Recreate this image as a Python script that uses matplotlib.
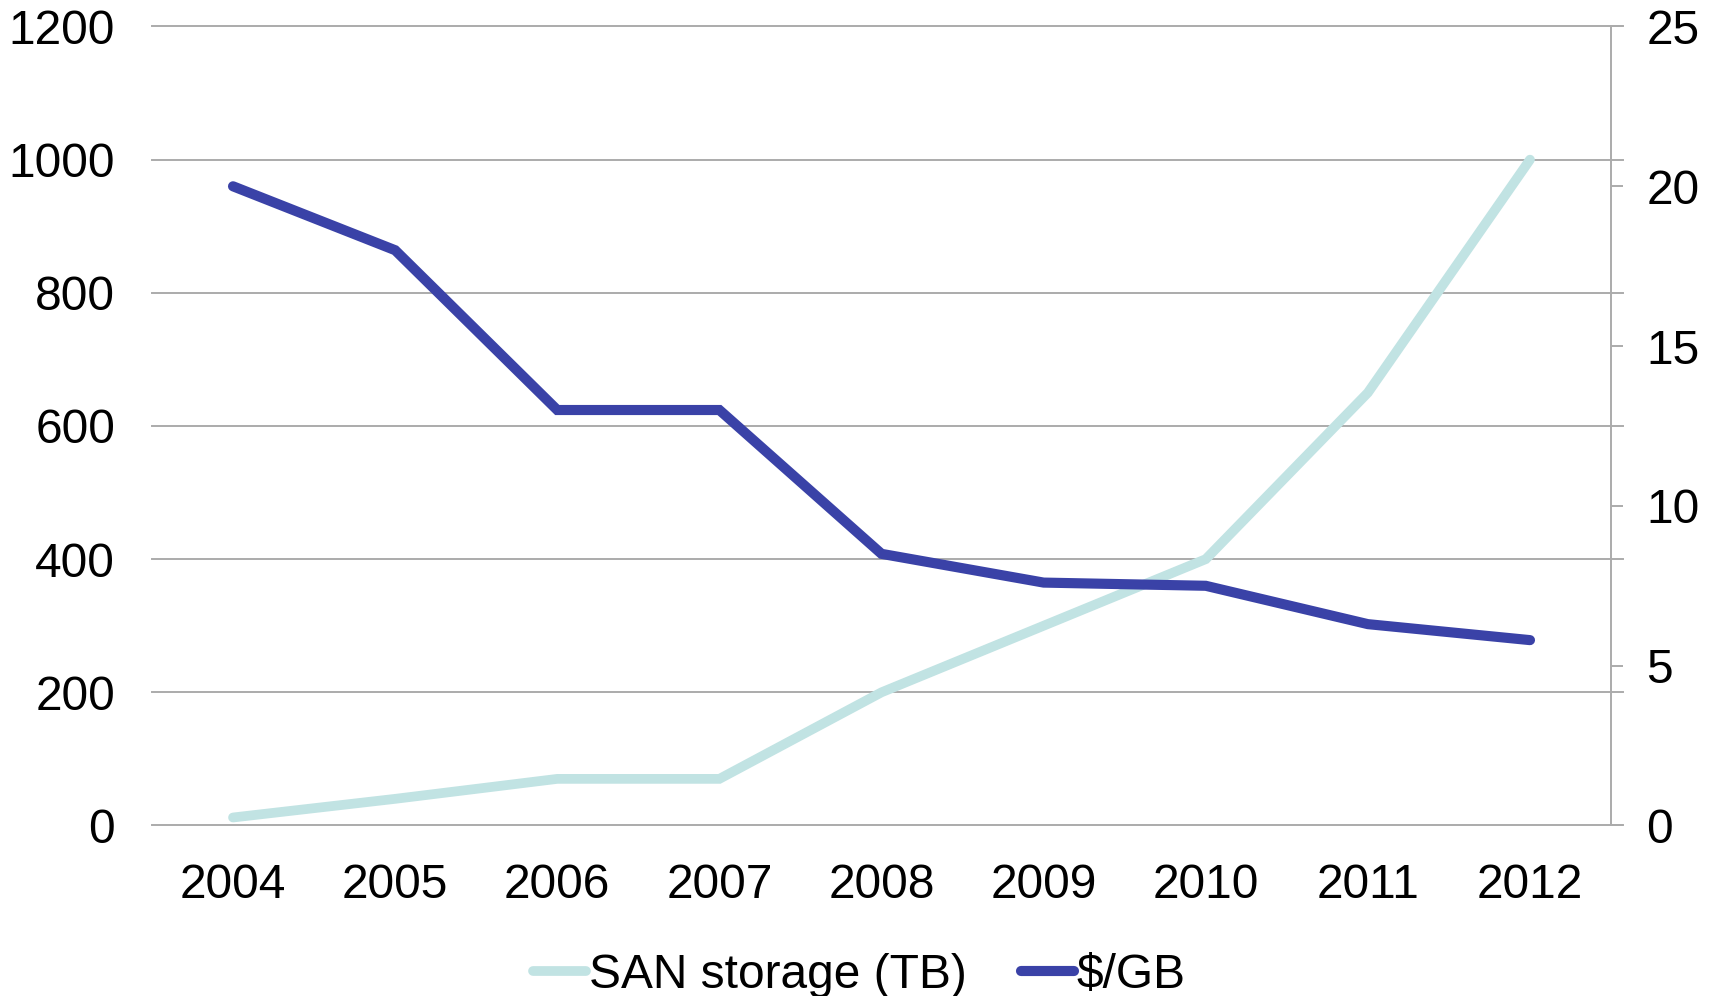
import matplotlib
matplotlib.use('Agg')
import matplotlib.pyplot as plt

plt.rcParams['font.family'] = ['Liberation Sans', 'DejaVu Sans']

# storage growth vs. price per GB
years = ['2004', '2005', '2006', '2007', '2008', '2009', '2010', '2011', '2012']
san_tb = [12, 40, 70, 70, 200, 300, 400, 650, 1000]
price_gb = [20, 18, 13, 13, 8.5, 7.6, 7.5, 6.3, 5.8]
left_ticks = [0, 200, 400, 600, 800, 1000, 1200]
right_ticks = [0, 5, 10, 15, 20, 25]

san_color = '#c1e3e3'
price_color = '#3a42a7'
grid_color = '#ababab'
fs = 34.5

fig = plt.figure(figsize=(17.19, 9.96), dpi=100)
ax = fig.add_axes([0.0884, 0.1712, 0.8488, 0.8022])
ax2 = ax.twinx()

x = list(range(len(years)))
ax.plot(x, san_tb, color=san_color, lw=7, solid_capstyle='round',
        solid_joinstyle='miter', label='SAN storage (TB)')
ax2.plot(x, price_gb, color=price_color, lw=7.3, solid_capstyle='round',
         solid_joinstyle='miter', label='$/GB')

ax.set_xlim(-0.5, len(years) - 0.5)
ax.set_ylim(0, 1200)
ax2.set_ylim(0, 25)

# horizontal gridlines run a little past the right spine
for y in left_ticks:
    ax.axhline(y, xmin=0, xmax=1 + 12 / 1459, color=grid_color, lw=1.4,
               clip_on=False, zorder=0)

for s in ['top', 'left', 'bottom', 'right']:
    ax.spines[s].set_visible(False)
    ax2.spines[s].set_visible(False)
ax2.spines['right'].set_visible(True)
ax2.spines['right'].set_color(grid_color)
ax2.spines['right'].set_linewidth(1.4)

ax.set_yticks(left_ticks)
ax.set_yticklabels([str(v) for v in left_ticks])
ax.tick_params(axis='y', length=0, pad=26.5, labelsize=fs)
ax.set_xticks(x)
ax.set_xticklabels(years)
ax.tick_params(axis='x', length=0, pad=27, labelsize=fs)

ax2.set_yticks(right_ticks)
ax2.set_yticklabels([str(v) for v in right_ticks])
ax2.tick_params(axis='y', direction='out', length=8.5, width=1.4,
                color=grid_color, pad=17, labelsize=fs)

h1, l1 = ax.get_legend_handles_labels()
h2, l2 = ax2.get_legend_handles_labels()
fig.legend(h1 + h2, l1 + l2, loc='center', bbox_to_anchor=(0.5, 0.021),
           ncol=2, frameon=False, fontsize=fs, handlelength=1.1,
           handletextpad=0.05, columnspacing=1.15)

fig.savefig('out.png', dpi=100)
